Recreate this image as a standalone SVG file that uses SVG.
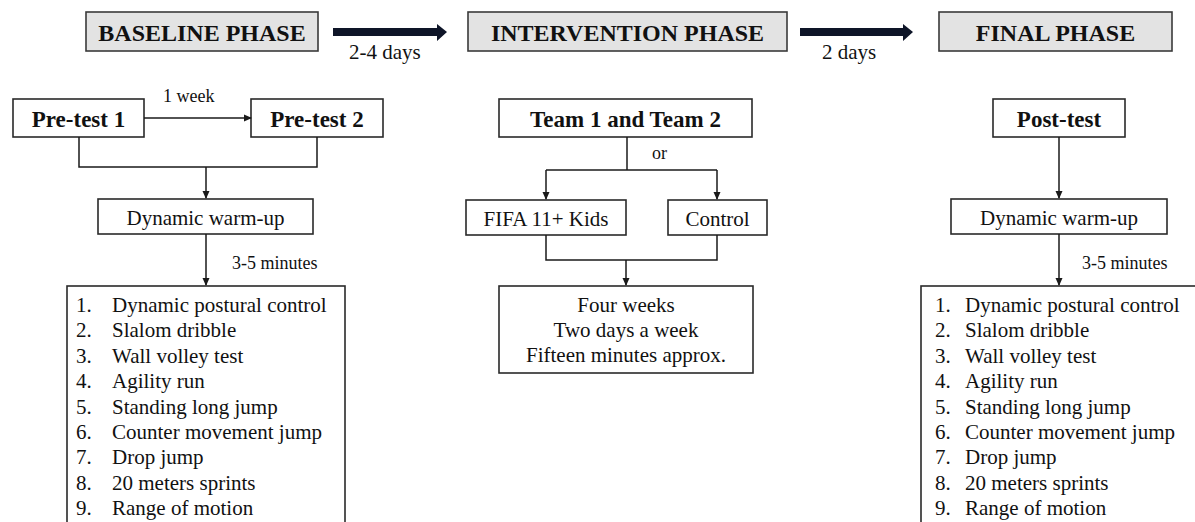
<svg xmlns="http://www.w3.org/2000/svg" width="1195" height="522" viewBox="0 0 1195 522" font-family="'Liberation Serif', 'Times New Roman', serif">
<defs>
<marker id="ah" markerWidth="8" markerHeight="8" refX="7" refY="4" orient="auto" markerUnits="userSpaceOnUse">
<path d="M0,0.5 L8,4 L0,7.5 z" fill="#1a1a1a"/>
</marker>
<style>
text{font-family:"Liberation Serif","Times New Roman",serif;fill:#111}
.phase{fill:#e3e3e3;stroke:#3a3a3a;stroke-width:1.6}
.box{fill:#fff;stroke:#2a2a2a;stroke-width:1.6}
.ph{font-size:24px;font-weight:bold;text-anchor:middle}
.bt{font-size:23px;font-weight:bold;text-anchor:middle}
.nt{font-size:21px;text-anchor:middle}
.li{font-size:21px}
.sm{font-size:18px}
.tl{font-size:21px}
.c{fill:none;stroke:#1a1a1a;stroke-width:1.5}
.big{fill:#0e1528}
</style>
</defs>
<rect width="1195" height="522" fill="#fff"/>

<g id="baseline-phase"><rect class="phase" x="86" y="12" width="232" height="39"/><text class="ph" x="202" y="41">BASELINE PHASE</text></g>
<g id="intervention-phase"><rect class="phase" x="468" y="12" width="319" height="39"/><text class="ph" x="627.5" y="41">INTERVENTION PHASE</text></g>
<g id="final-phase"><rect class="phase" x="939" y="12" width="233" height="39"/><text class="ph" x="1055.5" y="41">FINAL PHASE</text></g>

<g id="pretest1"><rect class="box" x="13" y="99" width="131" height="38"/><text class="bt" x="78.5" y="127">Pre-test 1</text></g>
<g id="pretest2"><rect class="box" x="251" y="99" width="132" height="38"/><text class="bt" x="317" y="127">Pre-test 2</text></g>
<g id="warmup1"><rect class="box" x="98" y="199" width="215" height="35"/><text class="nt" x="205.5" y="225">Dynamic warm-up</text></g>
<g id="tests1"><rect class="box" x="67" y="286" width="278" height="260"/>
<text class="li" x="76" y="312">1.</text><text class="li" x="112" y="312">Dynamic postural control</text>
<text class="li" x="76" y="337.4">2.</text><text class="li" x="112" y="337.4">Slalom dribble</text>
<text class="li" x="76" y="362.8">3.</text><text class="li" x="112" y="362.8">Wall volley test</text>
<text class="li" x="76" y="388.2">4.</text><text class="li" x="112" y="388.2">Agility run</text>
<text class="li" x="76" y="413.6">5.</text><text class="li" x="112" y="413.6">Standing long jump</text>
<text class="li" x="76" y="439">6.</text><text class="li" x="112" y="439">Counter movement jump</text>
<text class="li" x="76" y="464.4">7.</text><text class="li" x="112" y="464.4">Drop jump</text>
<text class="li" x="76" y="489.8">8.</text><text class="li" x="112" y="489.8">20 meters sprints</text>
<text class="li" x="76" y="515.2">9.</text><text class="li" x="112" y="515.2">Range of motion</text>
</g>

<g id="teams"><rect class="box" x="499" y="99" width="253" height="38"/><text class="bt" x="625.5" y="127">Team 1 and Team 2</text></g>
<g id="fifa"><rect class="box" x="466" y="200" width="160" height="35"/><text class="nt" x="546" y="226">FIFA 11+ Kids</text></g>
<g id="control"><rect class="box" x="668" y="200" width="99" height="35"/><text class="nt" x="717.5" y="226">Control</text></g>
<g id="schedule"><rect class="box" x="499" y="286" width="254" height="87"/>
<text class="nt" x="626" y="312">Four weeks</text>
<text class="nt" x="626" y="337">Two days a week</text>
<text class="nt" x="626" y="362">Fifteen minutes approx.</text>
</g>

<g id="posttest"><rect class="box" x="993" y="99" width="132" height="38"/><text class="bt" x="1059" y="127">Post-test</text></g>
<g id="warmup2"><rect class="box" x="951" y="199" width="216" height="35"/><text class="nt" x="1059" y="225">Dynamic warm-up</text></g>
<g id="tests2"><rect class="box" x="921" y="286" width="300" height="260"/>
<text class="li" x="935" y="312">1.</text><text class="li" x="965" y="312">Dynamic postural control</text>
<text class="li" x="935" y="337.4">2.</text><text class="li" x="965" y="337.4">Slalom dribble</text>
<text class="li" x="935" y="362.8">3.</text><text class="li" x="965" y="362.8">Wall volley test</text>
<text class="li" x="935" y="388.2">4.</text><text class="li" x="965" y="388.2">Agility run</text>
<text class="li" x="935" y="413.6">5.</text><text class="li" x="965" y="413.6">Standing long jump</text>
<text class="li" x="935" y="439">6.</text><text class="li" x="965" y="439">Counter movement jump</text>
<text class="li" x="935" y="464.4">7.</text><text class="li" x="965" y="464.4">Drop jump</text>
<text class="li" x="935" y="489.8">8.</text><text class="li" x="965" y="489.8">20 meters sprints</text>
<text class="li" x="935" y="515.2">9.</text><text class="li" x="965" y="515.2">Range of motion</text>
</g>

<g id="connectors">
<path class="big" d="M333,28 L437,28 L437,24 L447,32 L437,41 L437,36 L333,36 z"/>
<text class="tl" x="349" y="59">2-4 days</text>
<path class="big" d="M800,28 L903,28 L903,24 L913,32 L903,41 L903,36 L800,36 z"/>
<text class="tl" x="822" y="59">2 days</text>

<line class="c" x1="144" y1="118" x2="251" y2="118" marker-end="url(#ah)"/>
<text class="sm" x="163" y="102">1 week</text>
<path class="c" d="M79,137 V167 H317 V137"/>
<line class="c" x1="206" y1="167" x2="206" y2="198" marker-end="url(#ah)"/>
<line class="c" x1="206" y1="234" x2="206" y2="285" marker-end="url(#ah)"/>
<text class="sm" x="232" y="269">3-5 minutes</text>

<line class="c" x1="627" y1="137" x2="627" y2="170"/>
<text class="sm" x="652" y="159">or</text>
<path class="c" d="M546,170 H717"/>
<line class="c" x1="546" y1="170" x2="546" y2="199" marker-end="url(#ah)"/>
<line class="c" x1="717" y1="170" x2="717" y2="199" marker-end="url(#ah)"/>
<path class="c" d="M546,235 V260 H717 V235"/>
<line class="c" x1="626" y1="260" x2="626" y2="285" marker-end="url(#ah)"/>

<line class="c" x1="1059" y1="137" x2="1059" y2="198" marker-end="url(#ah)"/>
<line class="c" x1="1059" y1="234" x2="1059" y2="285" marker-end="url(#ah)"/>
<text class="sm" x="1082" y="269">3-5 minutes</text>
</g>
</svg>
